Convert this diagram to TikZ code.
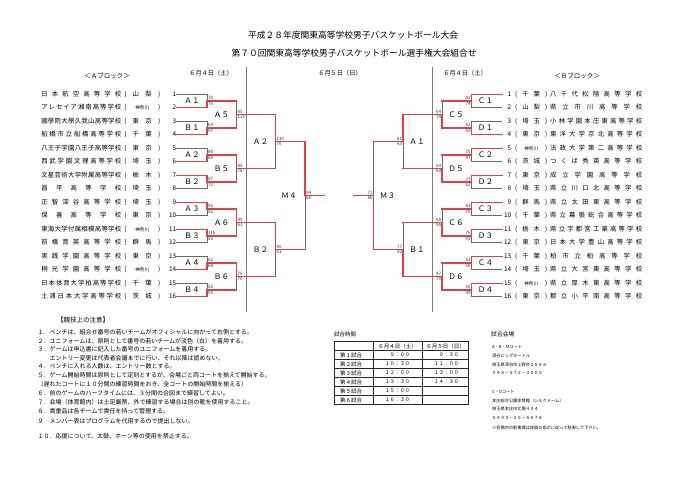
\documentclass[tikz,border=0pt]{standalone}
\usepackage{fontspec}
\setmainfont{Noto Sans CJK JP}
\definecolor{winred}{RGB}{228,62,74}
\definecolor{losegray}{RGB}{105,105,105}
\definecolor{divgray}{RGB}{125,125,125}
\newcommand{\spread}[2]{\makebox[#1][s]{\spaceskip=0.01pt plus 1fil\relax #2}}
\newcommand{\teamA}[3]{\spread{80pt}{#1}\hspace{3pt}\spread{36pt}{#2}\makebox[16pt][r]{#3}}
\newcommand{\teamB}[3]{\makebox[9pt][r]{#1}\hspace{4pt}\spread{32pt}{#2}\hspace{3pt}\spread{92pt}{#3}}
\newcommand{\kn}{\fontsize{4.6}{5}\selectfont}
\tikzstyle{team} = [inner sep = 0, font = \fontsize{6.4}{7}\selectfont]
\tikzstyle{tmA} = [team, anchor = east]
\tikzstyle{tmB} = [team, anchor = west]
\tikzstyle{win} = [draw = winred, line width = 1.2pt, line cap = rect]
\tikzstyle{lose} = [draw = losegray, line width = 0.8pt, line cap = rect]
\tikzstyle{divl} = [draw = divgray, line width = 0.8pt]
\tikzstyle{scr} = [inner sep = 0.8pt, font = \fontsize{4.5}{5}\selectfont, text = black!80]
\tikzstyle{lbl} = [inner sep = 0, font = \fontsize{7.6}{8}\selectfont]
\tikzstyle{ttl} = [inner sep = 0, font = \fontsize{8.75}{10}\selectfont]
\tikzstyle{hdr} = [inner sep = 0, font = \fontsize{6.5}{7}\selectfont]
\tikzstyle{day} = [inner sep = 0, font = \fontsize{6.2}{7}\selectfont]
\tikzstyle{note} = [anchor = west, inner sep = 0, font = \fontsize{6}{7}\selectfont]
\tikzstyle{tbl} = [draw = black!85, line width = 0.5pt]
\tikzstyle{cell} = [anchor = west, inner sep = 0, font = \fontsize{5.5}{6}\selectfont]
\tikzstyle{tim} = [anchor = east, inner sep = 0, font = \fontsize{5}{6}\selectfont]
\tikzstyle{venue} = [anchor = west, inner sep = 0, font = \fontsize{4.2}{5}\selectfont]

\begin{document}
\begin{tikzpicture}[x = 1pt, y = -1pt]
            \useasboundingbox (0, 0) rectangle (680, 481);

            \node[ttl] (t1) at (353, 35) {平成２８年度関東高等学校男子バスケットボール大会};
            \node[ttl] (t2) at (354, 53) {第７０回関東高等学校男子バスケットボール選手権大会組合せ};

            \node[hdr] (hA) at (107, 76) {＜Ａブロック＞};
            \node[day] (d1) at (211, 73) {６月４日（土）};
            \node[day] (d2) at (340, 73) {６月５日（日）};
            \node[day] (d3) at (465, 73) {６月４日（土）};
            \node[hdr] (hB) at (577, 76) {＜Ｂブロック＞};

            \draw[divl] (246.5, 67) -- (246.5, 312);
            \draw[divl] (432, 67) -- (432, 312);

            \node[tmA] (a1) at (176.5, 94.3) {\teamA{日 本 航 空 高 等 学 校}{( 山 梨 )}{1}};
            \node[tmA] (a2) at (176.5, 107.8) {\teamA{ア レ セ イ ア 湘 南 高 等 学 校}{( {\kn 神奈川} )}{2}};
            \node[tmA] (a3) at (176.5, 121.3) {\teamA{國 學 院 大 學 久 我 山 高 等 学 校}{( 東 京 )}{3}};
            \node[tmA] (a4) at (176.5, 134.8) {\teamA{船 橋 市 立 船 橋 高 等 学 校}{( 千 葉 )}{4}};
            \node[tmA] (a5) at (176.5, 148.3) {\teamA{八 王 子 学 園 八 王 子 高 等 学 校}{( 東 京 )}{5}};
            \node[tmA] (a6) at (176.5, 161.8) {\teamA{西 武 学 園 文 理 高 等 学 校}{( 埼 玉 )}{6}};
            \node[tmA] (a7) at (176.5, 175.3) {\teamA{文 星 芸 術 大 学 附 属 高 等 学 校}{( 栃 木 )}{7}};
            \node[tmA] (a8) at (176.5, 188.8) {\teamA{昌 平 高 等 学 校}{( 埼 玉 )}{8}};
            \node[tmA] (a9) at (176.5, 202.3) {\teamA{正 智 深 谷 高 等 学 校}{( 埼 玉 )}{9}};
            \node[tmA] (a10) at (176.5, 215.8) {\teamA{保 善 高 等 学 校}{( 東 京 )}{10}};
            \node[tmA] (a11) at (176.5, 229.3) {\teamA{東 海 大 学 付 属 相 模 高 等 学 校}{( {\kn 神奈川} )}{11}};
            \node[tmA] (a12) at (176.5, 242.8) {\teamA{前 橋 育 英 高 等 学 校}{( 群 馬 )}{12}};
            \node[tmA] (a13) at (176.5, 256.3) {\teamA{実 践 学 園 高 等 学 校}{( 東 京 )}{13}};
            \node[tmA] (a14) at (176.5, 269.8) {\teamA{桐 光 学 園 高 等 学 校}{( {\kn 神奈川} )}{14}};
            \node[tmA] (a15) at (176.5, 283.3) {\teamA{日 本 体 育 大 学 柏 高 等 学 校}{( 千 葉 )}{15}};
            \node[tmA] (a16) at (176.5, 296.8) {\teamA{土 浦 日 本 大 学 高 等 学 校}{( 茨 城 )}{16}};

            \node[tmB] (b1) at (502, 94.3) {\teamB{1}{( 千 葉 )}{八 千 代 松 陰 高 等 学 校}};
            \node[tmB] (b2) at (502, 107.8) {\teamB{2}{( 山 梨 )}{県 立 市 川 高 等 学 校}};
            \node[tmB] (b3) at (502, 121.3) {\teamB{3}{( 埼 玉 )}{小 林 学 園 本 庄 東 高 等 学 校}};
            \node[tmB] (b4) at (502, 134.8) {\teamB{4}{( 東 京 )}{東 洋 大 学 京 北 高 等 学 校}};
            \node[tmB] (b5) at (502, 148.3) {\teamB{5}{( {\kn 神奈川} )}{法 政 大 学 第 二 高 等 学 校}};
            \node[tmB] (b6) at (502, 161.8) {\teamB{6}{( 茨 城 )}{つ く ば 秀 英 高 等 学 校}};
            \node[tmB] (b7) at (502, 175.3) {\teamB{7}{( 東 京 )}{成 立 学 園 高 等 学 校}};
            \node[tmB] (b8) at (502, 188.8) {\teamB{8}{( 埼 玉 )}{県 立 川 口 北 高 等 学 校}};
            \node[tmB] (b9) at (502, 202.3) {\teamB{9}{( 群 馬 )}{県 立 太 田 東 高 等 学 校}};
            \node[tmB] (b10) at (502, 215.8) {\teamB{10}{( 千 葉 )}{県 立 幕 張 総 合 高 等 学 校}};
            \node[tmB] (b11) at (502, 229.3) {\teamB{11}{( 栃 木 )}{県 立 宇 都 宮 工 業 高 等 学 校}};
            \node[tmB] (b12) at (502, 242.8) {\teamB{12}{( 東 京 )}{日 本 大 学 豊 山 高 等 学 校}};
            \node[tmB] (b13) at (502, 256.3) {\teamB{13}{( 千 葉 )}{柏 市 立 柏 高 等 学 校}};
            \node[tmB] (b14) at (502, 269.8) {\teamB{14}{( 埼 玉 )}{県 立 大 宮 東 高 等 学 校}};
            \node[tmB] (b15) at (502, 283.3) {\teamB{15}{( {\kn 神奈川} )}{県 立 厚 木 東 高 等 学 校}};
            \node[tmB] (b16) at (502, 296.8) {\teamB{16}{( 東 京 )}{都 立 小 平 南 高 等 学 校}};

            \coordinate (A1) at (207, 101.05);
            \coordinate (B1) at (207, 128.05);
            \coordinate (A2) at (207, 155.05);
            \coordinate (B2) at (207, 182.05);
            \coordinate (A3) at (207, 209.05);
            \coordinate (B3) at (207, 236.05);
            \coordinate (A4) at (207, 263.05);
            \coordinate (B4) at (207, 290.05);
            \coordinate (A5) at (236.5, 114.55);
            \coordinate (B5) at (236.5, 168.55);
            \coordinate (A6) at (236.5, 222.55);
            \coordinate (B6) at (236.5, 276.55);
            \coordinate (kA2) at (275.5, 141.55);
            \coordinate (kB2) at (275.5, 249.55);
            \coordinate (kM4) at (305, 195.55);
            \coordinate (oM4) at (324.5, 195.55);

            \coordinate (C1) at (471.5, 101.05);
            \coordinate (D1) at (471.5, 128.05);
            \coordinate (C2) at (471.5, 155.05);
            \coordinate (D2) at (471.5, 182.05);
            \coordinate (C3) at (471.5, 209.05);
            \coordinate (D3) at (471.5, 236.05);
            \coordinate (C4) at (471.5, 263.05);
            \coordinate (D4) at (471.5, 290.05);
            \coordinate (C5) at (442, 114.55);
            \coordinate (D5) at (442, 168.55);
            \coordinate (C6) at (442, 222.55);
            \coordinate (D6) at (442, 276.55);
            \coordinate (kA1) at (403, 141.55);
            \coordinate (kB1) at (403, 249.55);
            \coordinate (kM3) at (373.5, 195.55);
            \coordinate (oM3) at (354, 195.55);

            \draw[lose] (a1.east) -| (A1);
            \draw[win] (a2.east) -| (A1);
            \draw[lose] (a3.east) -| (B1);
            \draw[win] (a4.east) -| (B1);
            \draw[lose] (a5.east) -| (A2);
            \draw[win] (a6.east) -| (A2);
            \draw[lose] (a8.east) -| (B2);
            \draw[win] (a7.east) -| (B2);
            \draw[lose] (a10.east) -| (A3);
            \draw[win] (a9.east) -| (A3);
            \draw[lose] (a12.east) -| (B3);
            \draw[win] (a11.east) -| (B3);
            \draw[lose] (a13.east) -| (A4);
            \draw[win] (a14.east) -| (A4);
            \draw[lose] (a15.east) -| (B4);
            \draw[win] (a16.east) -| (B4);

            \draw[lose] (A1 -| A5) -- (A5);
            \draw[win] (A1) -- (A1 -| A5);
            \draw[win] (B1) -| (A5);
            \draw[lose] (B2 -| B5) -- (B5);
            \draw[win] (B2) -- (B2 -| B5);
            \draw[win] (A2) -| (B5);
            \draw[lose] (B3 -| A6) -- (A6);
            \draw[win] (B3) -- (B3 -| A6);
            \draw[win] (A3) -| (A6);
            \draw[lose] (B4 -| B6) -- (B6);
            \draw[win] (B4) -- (B4 -| B6);
            \draw[win] (A4) -| (B6);

            \draw[lose] (B5 -| kA2) -- (kA2);
            \draw[win] (B5) -- (B5 -| kA2);
            \draw[win] (A5) -| (kA2);
            \draw[lose] (B6 -| kB2) -- (kB2);
            \draw[win] (B6) -- (B6 -| kB2);
            \draw[win] (A6) -| (kB2);
            \draw[lose] (kB2 -| kM4) -- (kM4);
            \draw[win] (kB2) -- (kB2 -| kM4);
            \draw[win] (kA2) -| (kM4) -- (oM4);

            \draw[lose] (b2.west) -| (C1);
            \draw[win] (b1.west) -| (C1);
            \draw[lose] (b3.west) -| (D1);
            \draw[win] (b4.west) -| (D1);
            \draw[lose] (b6.west) -| (C2);
            \draw[win] (b5.west) -| (C2);
            \draw[lose] (b8.west) -| (D2);
            \draw[win] (b7.west) -| (D2);
            \draw[lose] (b10.west) -| (C3);
            \draw[win] (b9.west) -| (C3);
            \draw[lose] (b12.west) -| (D3);
            \draw[win] (b11.west) -| (D3);
            \draw[lose] (b14.west) -| (C4);
            \draw[win] (b13.west) -| (C4);
            \draw[lose] (b16.west) -| (D4);
            \draw[win] (b15.west) -| (D4);

            \draw[lose] (C1 -| C5) -- (C5);
            \draw[win] (C1) -- (C1 -| C5);
            \draw[win] (D1) -| (C5);
            \draw[lose] (C2 -| D5) -- (D5);
            \draw[win] (C2) -- (C2 -| D5);
            \draw[win] (D2) -| (D5);
            \draw[lose] (C3 -| C6) -- (C6);
            \draw[win] (C3) -- (C3 -| C6);
            \draw[win] (D3) -| (C6);
            \draw[lose] (C4 -| D6) -- (D6);
            \draw[win] (C4) -- (C4 -| D6);
            \draw[win] (D4) -| (D6);

            \draw[lose] (D5 -| kA1) -- (kA1);
            \draw[win] (D5) -- (D5 -| kA1);
            \draw[win] (C5) -| (kA1);
            \draw[lose] (C6 -| kB1) -- (kB1);
            \draw[win] (C6) -- (C6 -| kB1);
            \draw[win] (D6) -| (kB1);
            \draw[lose] (kA1 -| kM3) -- (kM3);
            \draw[win] (kA1) -- (kA1 -| kM3);
            \draw[win] (kB1) -| (kM3) -- (oM3);

            \node[lbl, xshift = -15pt] (lA1) at (A1) {Ａ１};
            \node[lbl, xshift = -15pt] (lB1) at (B1) {Ｂ１};
            \node[lbl, xshift = -15pt] (lA2) at (A2) {Ａ２};
            \node[lbl, xshift = -15pt] (lB2) at (B2) {Ｂ２};
            \node[lbl, xshift = -15pt] (lA3) at (A3) {Ａ３};
            \node[lbl, xshift = -15pt] (lB3) at (B3) {Ｂ３};
            \node[lbl, xshift = -15pt] (lA4) at (A4) {Ａ４};
            \node[lbl, xshift = -15pt] (lB4) at (B4) {Ｂ４};
            \node[lbl, xshift = -15pt] (lA5) at (A5) {Ａ５};
            \node[lbl, xshift = -15pt] (lB5) at (B5) {Ｂ５};
            \node[lbl, xshift = -15pt] (lA6) at (A6) {Ａ６};
            \node[lbl, xshift = -15pt] (lB6) at (B6) {Ｂ６};
            \node[lbl, xshift = -15pt] (lkA2) at (kA2) {Ａ２};
            \node[lbl, xshift = -15pt] (lkB2) at (kB2) {Ｂ２};
            \node[lbl, xshift = -16pt] (lkM4) at (kM4) {Ｍ４};

            \node[lbl, xshift = 14pt] (lC1) at (C1) {Ｃ１};
            \node[lbl, xshift = 14pt] (lD1) at (D1) {Ｄ１};
            \node[lbl, xshift = 14pt] (lC2) at (C2) {Ｃ２};
            \node[lbl, xshift = 14pt] (lD2) at (D2) {Ｄ２};
            \node[lbl, xshift = 14pt] (lC3) at (C3) {Ｃ３};
            \node[lbl, xshift = 14pt] (lD3) at (D3) {Ｄ３};
            \node[lbl, xshift = 14pt] (lC4) at (C4) {Ｃ４};
            \node[lbl, xshift = 14pt] (lD4) at (D4) {Ｄ４};
            \node[lbl, xshift = 14pt] (lC5) at (C5) {Ｃ５};
            \node[lbl, xshift = 14pt] (lD5) at (D5) {Ｄ５};
            \node[lbl, xshift = 14pt] (lC6) at (C6) {Ｃ６};
            \node[lbl, xshift = 14pt] (lD6) at (D6) {Ｄ６};
            \node[lbl, xshift = 14pt] (lkA1) at (kA1) {Ａ１};
            \node[lbl, xshift = 14pt] (lkB1) at (kB1) {Ｂ１};
            \node[lbl, xshift = 14pt] (lkM3) at (kM3) {Ｍ３};

            \node[scr, anchor = south west] (sA1t) at (A1) {70};
            \node[scr, anchor = north west] (sA1b) at (A1) {75};
            \node[scr, anchor = south west] (sB1t) at (B1) {64};
            \node[scr, anchor = north west] (sB1b) at (B1) {97};
            \node[scr, anchor = south west] (sA2t) at (A2) {80};
            \node[scr, anchor = north west] (sA2b) at (A2) {86};
            \node[scr, anchor = south west] (sB2t) at (B2) {87};
            \node[scr, anchor = north west] (sB2b) at (B2) {72};
            \node[scr, anchor = south west] (sA3t) at (A3) {96};
            \node[scr, anchor = north west] (sA3b) at (A3) {55};
            \node[scr, anchor = south west] (sB3t) at (B3) {116};
            \node[scr, anchor = north west] (sB3b) at (B3) {55};
            \node[scr, anchor = south west] (sA4t) at (A4) {62};
            \node[scr, anchor = north west] (sA4b) at (A4) {68};
            \node[scr, anchor = south west] (sB4t) at (B4) {55};
            \node[scr, anchor = north west] (sB4b) at (B4) {93};
            \node[scr, anchor = south west] (sA5t) at (A5) {65};
            \node[scr, anchor = north west] (sA5b) at (A5) {113};
            \node[scr, anchor = south west] (sB5t) at (B5) {85};
            \node[scr, anchor = north west] (sB5b) at (B5) {78};
            \node[scr, anchor = south west] (sA6t) at (A6) {99};
            \node[scr, anchor = north west] (sA6b) at (A6) {61};
            \node[scr, anchor = south west] (sB6t) at (B6) {75};
            \node[scr, anchor = north west] (sB6b) at (B6) {70};
            \node[scr, anchor = south west] (skA2t) at (kA2) {110};
            \node[scr, anchor = north west] (skA2b) at (kA2) {70};
            \node[scr, anchor = south west] (skB2t) at (kB2) {66};
            \node[scr, anchor = north west] (skB2b) at (kB2) {61};
            \node[scr, anchor = south west] (skM4t) at (kM4) {94};
            \node[scr, anchor = north west] (skM4b) at (kM4) {88};

            \node[scr, anchor = south east] (sC1t) at (C1) {83};
            \node[scr, anchor = north east] (sC1b) at (C1) {74};
            \node[scr, anchor = south east] (sD1t) at (D1) {62};
            \node[scr, anchor = north east] (sD1b) at (D1) {92};
            \node[scr, anchor = south east] (sC2t) at (C2) {75};
            \node[scr, anchor = north east] (sC2b) at (C2) {47};
            \node[scr, anchor = south east] (sD2t) at (D2) {77};
            \node[scr, anchor = north east] (sD2b) at (D2) {62};
            \node[scr, anchor = south east] (sC3t) at (C3) {83};
            \node[scr, anchor = north east] (sC3b) at (C3) {76};
            \node[scr, anchor = south east] (sD3t) at (D3) {76};
            \node[scr, anchor = north east] (sD3b) at (D3) {63};
            \node[scr, anchor = south east] (sC4t) at (C4) {53};
            \node[scr, anchor = north east] (sC4b) at (C4) {50};
            \node[scr, anchor = south east] (sD4t) at (D4) {55};
            \node[scr, anchor = north east] (sD4b) at (D4) {49};
            \node[scr, anchor = south east] (sC5t) at (C5) {64};
            \node[scr, anchor = north east] (sC5b) at (C5) {74};
            \node[scr, anchor = south east] (sD5t) at (D5) {64};
            \node[scr, anchor = north east] (sD5b) at (D5) {69};
            \node[scr, anchor = south east] (sC6t) at (C6) {68};
            \node[scr, anchor = north east] (sC6b) at (C6) {95};
            \node[scr, anchor = south east] (sD6t) at (D6) {47};
            \node[scr, anchor = north east] (sD6b) at (D6) {79};
            \node[scr, anchor = south east] (skA1t) at (kA1) {81};
            \node[scr, anchor = north east] (skA1b) at (kA1) {63};
            \node[scr, anchor = south east] (skB1t) at (kB1) {77};
            \node[scr, anchor = north east] (skB1b) at (kB1) {92};
            \node[scr, anchor = south east] (skM3t) at (kM3) {71};
            \node[scr, anchor = north east] (skM3b) at (kM3) {86};

            \node[note, font = \fontsize{6.5}{7}\selectfont] (n0) at (57, 320) {【競技上の注意】};
            \node[note] (n1) at (37.5, 332.3) {１．ベンチは、組合せ番号の若いチームがオフィシャルに向かって右側とする。};
            \node[note] (n2) at (37.5, 340.8) {２．ユニフォームは、原則として番号の若いチームが淡色（白）を着用する。};
            \node[note] (n3) at (37.5, 349.3) {３．ゲームは申込書に記入した番号のユニフォームを着用する。};
            \node[note] (n3b) at (37.5, 357.8) {　　エントリー変更は代表者会議までに行い、それ以降は認めない。};
            \node[note] (n4) at (37.5, 366.3) {４．ベンチに入れる人数は、エントリー数とする。};
            \node[note] (n5) at (37.5, 375) {５．ゲーム開始時間は原則として定刻とするが、会場ごと両コートを揃えて開始する。};
            \node[note] (n5b) at (37.5, 384) {（遅れたコートに１０分間の練習時間をおき、全コートの開始時間を揃える）};
            \node[note] (n6) at (37.5, 393) {６．前のゲームのハーフタイムには、３分間の合図まで練習してよい。};
            \node[note] (n7) at (37.5, 402.5) {７．会場（体育館内）は土足厳禁、外で練習する場合は別の靴を使用すること。};
            \node[note] (n8) at (37.5, 411.7) {８．貴重品は各チームで責任を持って管理する。};
            \node[note] (n9) at (37.5, 421) {９．メンバー表はプログラムを代用するので提出しない。};
            \node[note] (n10) at (37.5, 436) {１０．応援について、太鼓、ホーン等の使用を禁止する。};

            \node[cell] (gh) at (334, 334) {試合時間};
            \draw[tbl] (334, 341.5) rectangle (468.5, 404.5);
            \draw[tbl] (334, 350.5) -- (468.5, 350.5);
            \draw[tbl] (334, 359.5) -- (468.5, 359.5);
            \draw[tbl] (334, 368.5) -- (468.5, 368.5);
            \draw[tbl] (334, 377.5) -- (468.5, 377.5);
            \draw[tbl] (334, 386.5) -- (468.5, 386.5);
            \draw[tbl] (334, 395.5) -- (468.5, 395.5);
            \draw[tbl] (373.3, 341.5) -- (373.3, 404.5);
            \draw[tbl] (422.7, 341.5) -- (422.7, 404.5);
            \node[cell, anchor = center] (gd1) at (397.5, 346) {６月４日（土）};
            \node[cell, anchor = center] (gd2) at (445.5, 346) {６月５日（日）};
            \node[cell] (g1) at (340, 355) {第１試合};
            \node[cell] (g2) at (340, 364) {第２試合};
            \node[cell] (g3) at (340, 373) {第３試合};
            \node[cell] (g4) at (340, 382) {第４試合};
            \node[cell] (g5) at (340, 391) {第５試合};
            \node[cell] (g6) at (340, 400) {第６試合};
            \node[tim] (g1a) at (410, 355) {９：００};
            \node[tim] (g2a) at (410, 364) {１０：３０};
            \node[tim] (g3a) at (410, 373) {１２：００};
            \node[tim] (g4a) at (410, 382) {１３：３０};
            \node[tim] (g5a) at (410, 391) {１５：００};
            \node[tim] (g6a) at (410, 400) {１６：３０};
            \node[tim] (g1b) at (459, 355) {９：３０};
            \node[tim] (g2b) at (459, 364) {１１：００};
            \node[tim] (g3b) at (459, 373) {１３：００};
            \node[tim] (g4b) at (459, 382) {１４：３０};

            \node[cell, font = \fontsize{5.8}{6}\selectfont] (vh) at (491, 334) {試合会場};
            \node[venue] (v1) at (492, 346.7) {A・B・Mコート};
            \node[venue] (v2) at (492, 355.7) {深谷ビッグタートル};
            \node[venue] (v3) at (492, 364.7) {埼玉県深谷市上野台２５６８};
            \node[venue] (v4) at (492, 373.3) {０４８－５７２－３０００};
            \node[venue] (v5) at (492, 391.7) {C・Dコート};
            \node[venue] (v6) at (492, 400.7) {本庄総合公園体育館（シルクドーム）};
            \node[venue] (v7) at (492, 409.3) {埼玉県本庄市北堀４３４};
            \node[venue] (v8) at (492, 418.3) {０４９５－２５－５６７８};
            \node[venue] (v9) at (492, 428) {※会場内の駐車場は係員の指示に従って駐車して下さい。};
        \end{tikzpicture}
\end{document}
